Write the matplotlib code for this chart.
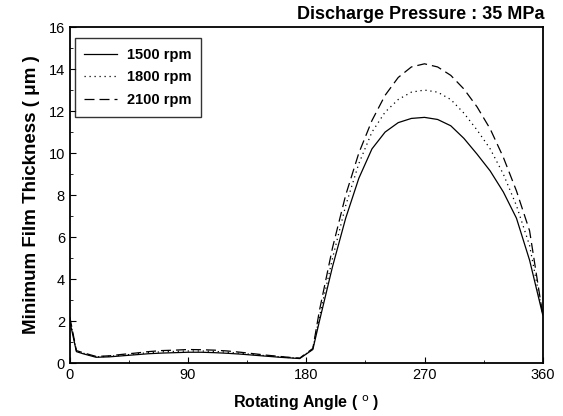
import numpy as np
import matplotlib
matplotlib.use("Agg")
import matplotlib.pyplot as plt
from matplotlib.ticker import MultipleLocator

plt.rcParams['font.family'] = ['Liberation Sans', 'DejaVu Sans']

# rotating angle (deg)
angle = [0, 5, 10, 20, 30, 40, 50, 60, 70, 80, 90, 100, 110, 120, 130, 140, 150, 160, 170, 175,
         185, 190, 200, 210, 220, 230, 240, 250, 260, 270, 280, 290, 300, 310, 320, 330, 340, 350, 360]

# minimum film thickness (um)
h_1500 = [2.0, 0.55, 0.45, 0.28, 0.3, 0.35, 0.4, 0.45, 0.48, 0.5, 0.52, 0.52, 0.5, 0.47, 0.43, 0.38, 0.33, 0.28, 0.24, 0.22,
          0.65, 2.0, 4.6, 6.9, 8.8, 10.2, 11.0, 11.45, 11.65, 11.7, 11.6, 11.3, 10.7, 9.95, 9.15, 8.15, 6.9, 4.9, 2.3]
h_1800 = [2.1, 0.58, 0.48, 0.3, 0.33, 0.38, 0.44, 0.5, 0.54, 0.56, 0.58, 0.58, 0.56, 0.52, 0.47, 0.41, 0.35, 0.3, 0.25, 0.23,
          0.68, 2.2, 5.0, 7.5, 9.5, 11.0, 11.95, 12.55, 12.9, 13.0, 12.9, 12.55, 11.9, 11.1, 10.2, 9.0, 7.5, 5.6, 2.3]
h_2100 = [2.2, 0.6, 0.5, 0.32, 0.35, 0.42, 0.48, 0.55, 0.6, 0.62, 0.65, 0.64, 0.62, 0.58, 0.52, 0.45, 0.38, 0.32, 0.26, 0.24,
          0.7, 2.5, 5.5, 8.0, 10.0, 11.55, 12.75, 13.6, 14.1, 14.25, 14.1, 13.7, 13.05, 12.2, 11.15, 9.8, 8.2, 6.3, 2.3]

fig = plt.figure(figsize=(5.63, 4.16), dpi=100)
ax = fig.add_axes([0.124, 0.127, 0.84, 0.808])

ax.plot(angle, h_1500, color='black', linestyle='-', linewidth=0.9, label='1500 rpm')
ax.plot(angle, h_1800, color='black', linestyle=(0, (1, 3)), linewidth=0.9, label='1800 rpm')
ax.plot(angle, h_2100, color='black', linestyle=(0, (8, 4)), linewidth=0.9, label='2100 rpm')

ax.set_xlim(0, 360)
ax.set_ylim(0, 16)
ax.xaxis.set_major_locator(MultipleLocator(90))
ax.xaxis.set_minor_locator(MultipleLocator(45))
ax.yaxis.set_major_locator(MultipleLocator(2))
ax.yaxis.set_minor_locator(MultipleLocator(1))
ax.tick_params(which='both', direction='in', top=False, right=False, labelsize=10.5)
ax.tick_params(which='major', length=4)
ax.tick_params(which='minor', length=2)
for s in ax.spines.values():
    s.set_linewidth(1.3)

ax.set_xlabel(r'Rotating Angle ( $^{\mathrm{o}}$ )', fontsize=11.5, fontweight='bold', labelpad=8)
ax.set_ylabel('Minimum Film Thickness ( \u03bcm )', fontsize=13.5, fontweight='bold', labelpad=6)

fig.text(0.968, 0.966, 'Discharge Pressure : 35 MPa', ha='right', va='center',
         fontsize=13, fontweight='bold')

leg = ax.legend(loc='upper left', bbox_to_anchor=(0.011, 0.967), borderaxespad=0,
                frameon=True, fancybox=False, edgecolor='black',
                prop={'weight': 'bold', 'size': 10.5},
                handlelength=2.2, handletextpad=0.7, labelspacing=0.6, borderpad=0.65)
leg.get_frame().set_linewidth(1.0)

fig.savefig('out.png', dpi=100)
